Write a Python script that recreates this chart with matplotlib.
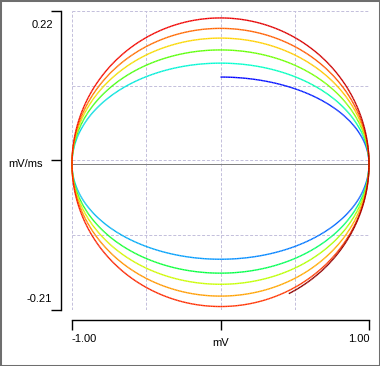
import numpy as np
import matplotlib
matplotlib.use("Agg")
import matplotlib.pyplot as plt
from matplotlib.collections import LineCollection
from matplotlib.colors import LinearSegmentedColormap
from matplotlib.patches import Rectangle

# peak dV/dt (mV/ms) of each half loop, read at V = 0
# first entry: start of the trace (top, blue), last: final bottom loop
half_loop_peaks = [0.125, -0.137, 0.145, -0.157, 0.164, -0.173,
                   0.181, -0.190, 0.195, -0.205, 0.210, -0.210]
end_voltage = 0.46          # trace stops here on its last loop (mV)

# trace colour at each peak (time runs blue -> dark red)
peak_colors = ["#0000ff", "#0096ff", "#00ffd0", "#00ff40", "#60ff00", "#c8ff00",
               "#ffd400", "#ffa000", "#ff6400", "#ff3000", "#f00000", "#8c0000"]

x_ticks = [-1.0, 0.0, 1.0]
x_labels = ["-1.00", "mV", "1.00"]
y_ticks = [-0.21, 0.005, 0.22]
y_labels = ["-0.21", "mV/ms", "0.22"]

W, H = 380, 366
fig = plt.figure(figsize=(W / 100, H / 100), dpi=100)
fig.patch.set_facecolor("white")
PX = 0.72  # one pixel in points

ax = fig.add_axes([72 / W, (H - 310) / H, 297 / W, 299 / H])
ax.set_xlim(-1, 1)
ax.set_ylim(-0.21, 0.22)

# dashed grid + zero line
grid_kw = dict(color="#c4c0dc", lw=PX, dashes=(3, 1.8), zorder=1)
for gx in np.linspace(-1, 1, 5):
    ax.axvline(gx, **grid_kw)
for gy in np.linspace(-0.21, 0.22, 5):
    ax.axhline(gy, **grid_kw)
ax.axhline(0, color="#808080", lw=PX, zorder=2)

# phase trajectory: each half loop is an elliptic arc through V = +-1
n = len(half_loop_peaks)
s_end = (n - 2) + (np.pi - np.arcsin(end_voltage)) / np.pi
s = np.linspace(0, s_end, 3000)
k = np.floor(s + 0.5).astype(int)
amp = np.abs(np.array(half_loop_peaks))[k]
v = np.sin(np.pi * s)
dv = amp * np.cos(np.pi * s)

pts = np.column_stack([v, dv]).reshape(-1, 1, 2)
segs = np.concatenate([pts[:-1], pts[1:]], axis=1)
stops = [i / s_end for i in range(len(peak_colors) - 1)] + [1.0]
cmap = LinearSegmentedColormap.from_list("trace", list(zip(stops, peak_colors)))
lc = LineCollection(segs, cmap=cmap, lw=1.0, zorder=3, clip_on=False)
lc.set_array(s[:-1] / s_end)
ax.add_collection(lc)

# axes: detached left / bottom rulers
for side in ["top", "right"]:
    ax.spines[side].set_visible(False)
ax.spines["left"].set_position(("outward", 11 * PX))
ax.spines["bottom"].set_position(("outward", 10 * PX))
for side in ["left", "bottom"]:
    ax.spines[side].set_linewidth(PX * 1.4)
    ax.spines[side].set_color("black")
ax.set_xticks(x_ticks)
ax.set_yticks(y_ticks)
ax.set_xticklabels([])
ax.set_yticklabels([])
ax.tick_params(length=10 * PX, width=PX * 1.4, color="black", direction="out")
ax.set_facecolor("white")

font = dict(family=["Liberation Sans", "DejaVu Sans"], fontsize=8, color="black")


def put(text, x, y, ha):
    fig.text(x / W, 1 - y / H, text, ha=ha, va="baseline", **font)


put(y_labels[2], 53, 28.5, "right")
put(y_labels[1], 42.5, 167, "right")
put(y_labels[0], 52, 302.5, "right")
put(x_labels[0], 71, 341.5, "left")
put(x_labels[1], 220.5, 346.5, "center")
put(x_labels[2], 369.5, 341.5, "right")

fig.patches.append(Rectangle((0, 0), 1, 1, transform=fig.transFigure, fill=False,
                             edgecolor="#6e6e6e", lw=2.2))

fig.savefig("out.png", dpi=100, facecolor="white")
